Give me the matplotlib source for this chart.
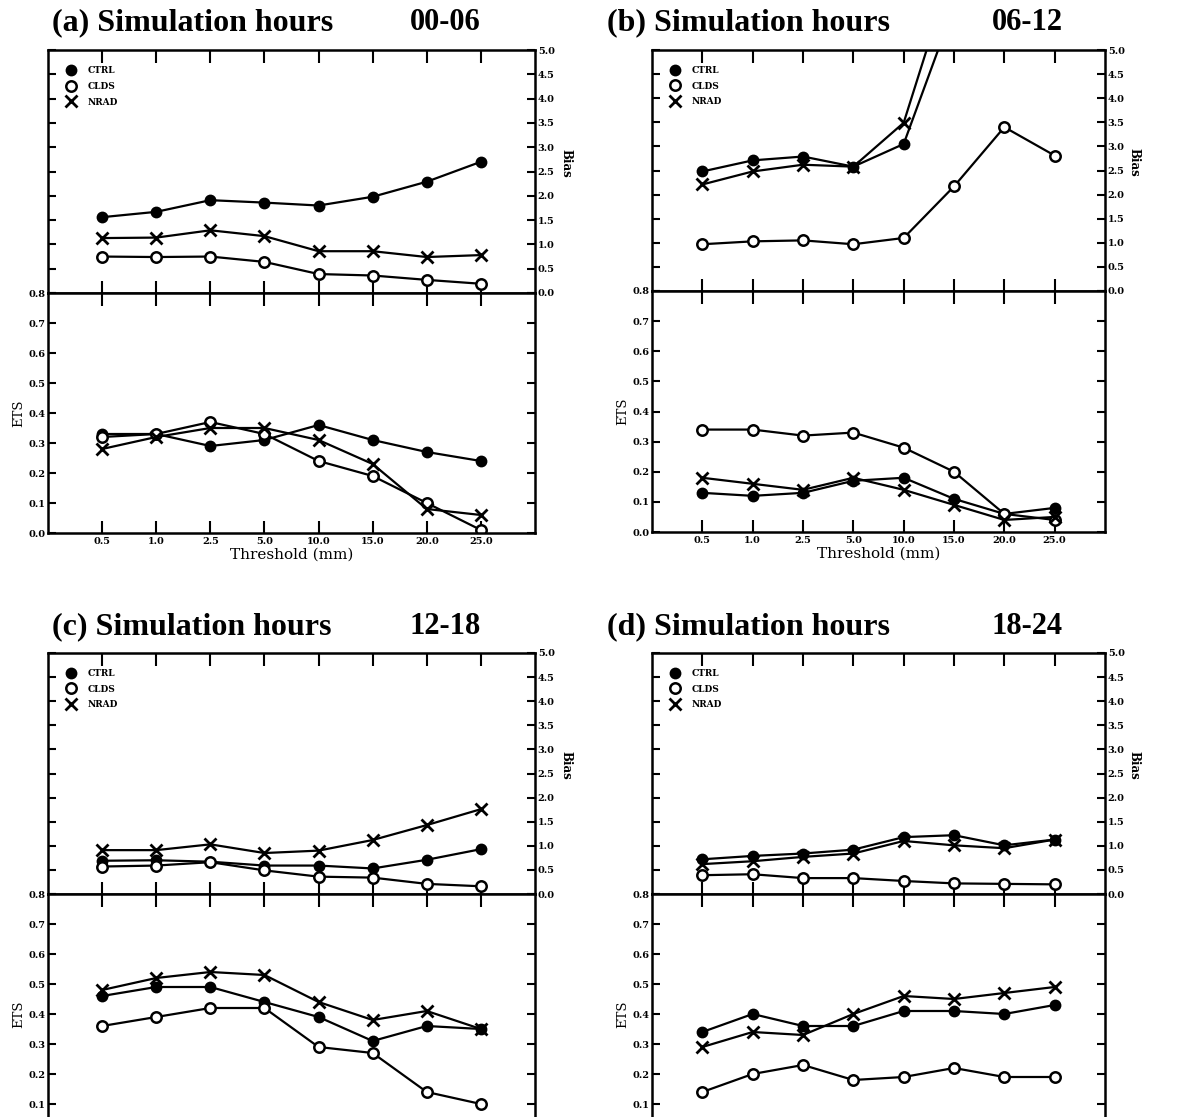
import numpy as np
import matplotlib
matplotlib.use('Agg')
import matplotlib.pyplot as plt
from matplotlib.lines import Line2D

#
# data
#
thresholds = ['0.5', '1.0', '2.5', '5.0', '10.0', '15.0', '20.0', '25.0']
panel_titles = ['(a) Simulation hours', '(b) Simulation hours',
                '(c) Simulation hours', '(d) Simulation hours']
panel_hours = ['00-06', '06-12', '12-18', '18-24']
series_names = ['CTRL', 'CLDS', 'NRAD']

# bias, one row per panel (a-d)
bias_ctrl = [
    [1.56, 1.67, 1.91, 1.86, 1.80, 1.98, 2.29, 2.70],
    [2.48, 2.71, 2.79, 2.58, 3.05, 5.90, 6.50, 6.50],
    [0.69, 0.70, 0.67, 0.59, 0.59, 0.53, 0.71, 0.93],
    [0.72, 0.79, 0.84, 0.92, 1.18, 1.22, 1.01, 1.13],
]
bias_clds = [
    [0.75, 0.74, 0.75, 0.64, 0.39, 0.36, 0.27, 0.19],
    [0.97, 1.03, 1.05, 0.97, 1.10, 2.17, 3.40, 2.81],
    [0.57, 0.59, 0.66, 0.49, 0.36, 0.34, 0.21, 0.16],
    [0.39, 0.41, 0.33, 0.33, 0.27, 0.22, 0.21, 0.20],
]
bias_nrad = [
    [1.13, 1.14, 1.29, 1.17, 0.86, 0.86, 0.74, 0.78],
    [2.21, 2.48, 2.62, 2.58, 3.49, 6.80, 7.00, 7.00],
    [0.91, 0.91, 1.03, 0.85, 0.90, 1.12, 1.43, 1.76],
    [0.62, 0.68, 0.77, 0.84, 1.10, 1.01, 0.95, 1.13],
]

# equitable threat score, one row per panel (a-d)
ets_ctrl = [
    [0.33, 0.33, 0.29, 0.31, 0.36, 0.31, 0.27, 0.24],
    [0.13, 0.12, 0.13, 0.17, 0.18, 0.11, 0.06, 0.08],
    [0.46, 0.49, 0.49, 0.44, 0.39, 0.31, 0.36, 0.35],
    [0.34, 0.40, 0.36, 0.36, 0.41, 0.41, 0.40, 0.43],
]
ets_clds = [
    [0.32, 0.33, 0.37, 0.33, 0.24, 0.19, 0.10, 0.01],
    [0.34, 0.34, 0.32, 0.33, 0.28, 0.20, 0.06, 0.04],
    [0.36, 0.39, 0.42, 0.42, 0.29, 0.27, 0.14, 0.10],
    [0.14, 0.20, 0.23, 0.18, 0.19, 0.22, 0.19, 0.19],
]
ets_nrad = [
    [0.28, 0.32, 0.35, 0.35, 0.31, 0.23, 0.08, 0.06],
    [0.18, 0.16, 0.14, 0.18, 0.14, 0.09, 0.04, 0.05],
    [0.48, 0.52, 0.54, 0.53, 0.44, 0.38, 0.41, 0.35],
    [0.29, 0.34, 0.33, 0.40, 0.46, 0.45, 0.47, 0.49],
]

#
# layout (pixels)
#
W, H = 1184, 1117
# left, right, top, middle, bottom
boxes = [(48, 535, 50, 293, 533), (652, 1105, 50, 291, 532),
         (48, 535, 653, 894, 1134), (652, 1105, 653, 894, 1134)]
title_xy = [(52, 30), (607, 30), (52, 634), (607, 634)]
hours_right = [481, 1063, 481, 1063]
# the lower two panels run past the bottom of the page
cut_off = [False, False, True, True]

tick_font = dict(family='DejaVu Serif', weight='bold', size=7)

styles = [dict(marker='o', ms=7, mfc='black', mec='black', mew=1.5),
          dict(marker='o', ms=7.5, mfc='white', mec='black', mew=1.8),
          dict(marker='x', ms=9, mec='black', mew=2.0)]


def rect(l, r, t, b):
    return [l / W, 1 - b / H, (r - l) / W, (b - t) / H]


fig = plt.figure(figsize=(W / 100, H / 100), dpi=100)
x = np.arange(1, len(thresholds) + 1)

for p in range(4):
    l, r, t, m, b = boxes[p]
    ax_b = fig.add_axes(rect(l, r, t, m))
    ax_e = fig.add_axes(rect(l, r, m, b))

    bias_sets = [bias_ctrl[p], bias_clds[p], bias_nrad[p]]
    ets_sets = [ets_ctrl[p], ets_clds[p], ets_nrad[p]]
    for vals, st in zip(bias_sets, styles):
        ax_b.plot(x, vals, color='black', lw=1.6, **st)
    for vals, st in zip(ets_sets, styles):
        ax_e.plot(x, vals, color='black', lw=1.6, **st)

    # bias axes
    ax_b.set_xlim(0, 9)
    ax_b.set_ylim(0, 5)
    ax_b.set_xticks(x)
    ax_b.set_xticklabels([])
    bias_ticks = np.arange(0, 5.01, 0.5)
    ax_b.set_yticks(bias_ticks)
    ax_b.set_yticklabels(['%.1f' % v for v in bias_ticks], **tick_font)
    ax_b.tick_params(axis='x', top=True, bottom=True, direction='in', length=9, width=1.5)
    ax_b.tick_params(axis='y', left=True, right=True, labelleft=False, labelright=True,
                     direction='in', length=6, width=1.5, pad=2)
    ax_b.text(1.064, 0.535, 'Bias', transform=ax_b.transAxes, rotation=270,
              ha='center', va='center', family='DejaVu Serif', weight='bold', size=8.5)

    # ETS axes
    ax_e.set_xlim(0, 9)
    ax_e.set_ylim(0, 0.8)
    ax_e.set_xticks(x)
    ets_ticks = np.arange(0, 0.81, 0.1)
    ets_labels = ['%.1f' % v for v in ets_ticks]
    ax_e.set_yticks(ets_ticks)
    ax_e.tick_params(axis='x', top=True, bottom=True, direction='in', length=9, width=1.5, pad=3)
    ax_e.tick_params(axis='y', left=True, right=True, direction='in', length=6, width=1.5, pad=2)
    ax_e.set_ylabel('ETS', family='DejaVu Serif', size=9.5, labelpad=2)
    if cut_off[p]:
        ax_e.set_xticklabels([])
        ets_labels[0] = ''
    else:
        ax_e.set_xticklabels(thresholds, **tick_font)
        ax_e.set_xlabel('Threshold (mm)', family='DejaVu Serif', size=11, labelpad=1)
    ax_e.set_yticklabels(ets_labels, **tick_font)

    for ax in (ax_b, ax_e):
        for s in ax.spines.values():
            s.set_linewidth(1.8)

    # legend, markers only
    handles = [Line2D([], [], ls='none', color='black', **st) for st in styles]
    wpx = r - l
    ax_b.legend(handles, series_names, loc='upper left',
                bbox_to_anchor=(18 / wpx, 1 - 16 / 243), frameon=False,
                prop=dict(family='DejaVu Serif', weight='bold', size=6.5),
                handlelength=1.0, handletextpad=1.4, labelspacing=0.75,
                borderpad=0, borderaxespad=0)

    tx, ty = title_xy[p]
    fig.text(tx / W, 1 - ty / H, panel_titles[p], family='Liberation Serif',
             weight='bold', size=23, ha='left', va='baseline')
    fig.text(hours_right[p] / W, 1 - ty / H, panel_hours[p], family='Liberation Serif',
             weight='bold', size=22, ha='right', va='baseline')

plt.savefig('out.png', dpi=100)
